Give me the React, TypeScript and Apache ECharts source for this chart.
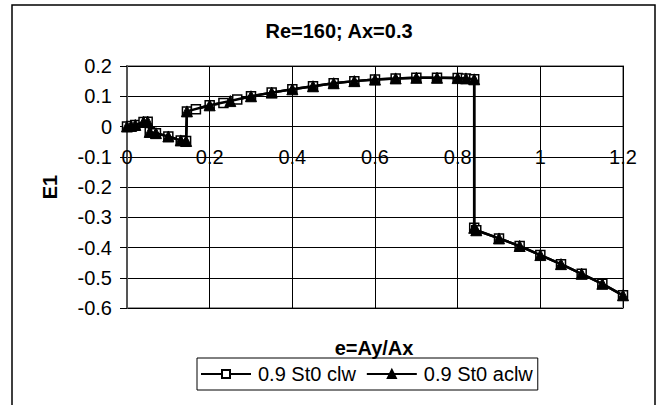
import React, { useEffect, useRef } from "react";
import * as echarts from "echarts";

const titleText = "Re=160; Ax=0.3";
const xAxisTitle = "e=Ay/Ax";
const yAxisTitle = "E1";
const seriesNames = ["0.9 St0 clw", "0.9 St0 aclw"];

const clwX = [0, 0.01, 0.02, 0.04, 0.05, 0.055, 0.07, 0.1, 0.13, 0.143, 0.145, 0.1667, 0.2, 0.2333, 0.2667, 0.3, 0.35, 0.4, 0.45, 0.5, 0.55, 0.6, 0.65, 0.7, 0.75, 0.8, 0.82, 0.84, 0.84, 0.845, 0.9, 0.95, 1.0, 1.05, 1.1, 1.15, 1.2];
const clwY = [0, 0.002, 0.005, 0.015, 0.016, -0.018, -0.022, -0.033, -0.046, -0.048, 0.05, 0.057, 0.07, 0.078, 0.089, 0.1, 0.112, 0.123, 0.133, 0.143, 0.15, 0.155, 0.159, 0.161, 0.161, 0.16, 0.159, 0.156, -0.335, -0.343, -0.37, -0.395, -0.425, -0.455, -0.487, -0.52, -0.558];

const aclwX = [0, 0.01, 0.02, 0.04, 0.05, 0.055, 0.07, 0.1, 0.13, 0.143, 0.145, 0.2, 0.25, 0.3, 0.35, 0.4, 0.45, 0.5, 0.55, 0.6, 0.65, 0.7, 0.75, 0.8, 0.82, 0.84, 0.84, 0.845, 0.9, 0.95, 1.0, 1.05, 1.1, 1.15, 1.2];
const aclwY = [0, 0.002, 0.005, 0.015, 0.016, -0.018, -0.022, -0.033, -0.046, -0.048, 0.05, 0.07, 0.084, 0.1, 0.112, 0.123, 0.133, 0.143, 0.15, 0.155, 0.159, 0.161, 0.161, 0.16, 0.159, 0.156, -0.335, -0.343, -0.37, -0.395, -0.425, -0.455, -0.487, -0.52, -0.558];

const FONT = "Liberation Sans, Arial, sans-serif";

const GRID_TOP = 66;
const GRID_BOTTOM = 97;
const CHART_H = 405;
const Y_MIN = -0.6;
const Y_MAX = 0.2;

export default function App() {
  const ref = useRef<HTMLDivElement>(null);
  useEffect(() => {
    if (!ref.current) return;
    const chart = echarts.init(ref.current, null, { renderer: "svg" });
    const zip = (xs: number[], ys: number[]) => xs.map((x, i) => [x, ys[i]]);
    const fmt = (v: number) => String(parseFloat(v.toFixed(1)));
    const plotH = CHART_H - GRID_TOP - GRID_BOTTOM;
    const zeroFromBottom = ((0 - Y_MIN) / (Y_MAX - Y_MIN)) * plotH;
    chart.setOption({
      animation: false,
      backgroundColor: "#fff",
      textStyle: { fontFamily: FONT },
      grid: {
        left: 127,
        right: 43,
        top: GRID_TOP,
        bottom: GRID_BOTTOM,
        show: true,
        borderColor: "#999",
        borderWidth: 2,
        backgroundColor: "transparent",
      },
      graphic: [
        {
          type: "rect",
          shape: { x: 12, y: 5, width: 643, height: 420 },
          style: { fill: "none", stroke: "#000", lineWidth: 1.5 },
          silent: true,
        },
        {
          type: "text",
          x: 339,
          y: 31,
          style: { text: titleText, font: `bold 20px ${FONT}`, fill: "#000", textAlign: "center", textVerticalAlign: "middle" },
        },
        {
          type: "text",
          x: 374,
          y: 348,
          style: { text: xAxisTitle, font: `bold 20px ${FONT}`, fill: "#000", textAlign: "center", textVerticalAlign: "middle" },
        },
        {
          type: "text",
          x: 50,
          y: 187,
          rotation: Math.PI / 2,
          style: { text: yAxisTitle, font: `bold 20px ${FONT}`, fill: "#000", textAlign: "center", textVerticalAlign: "middle" },
        },
      ],
      legend: {
        left: 197,
        top: 358,
        orient: "horizontal",
        borderColor: "#000",
        borderWidth: 1,
        padding: [6, 5, 6, 3],
        itemGap: 10,
        itemWidth: 50,
        itemHeight: 10,
        data: seriesNames,
        textStyle: { fontSize: 20, color: "#000", fontFamily: FONT, padding: [0, 2, 0, 2] },
      },
      xAxis: {
        type: "value",
        min: 0,
        max: 1.2,
        interval: 0.2,
        position: "bottom",
        offset: -zeroFromBottom,
        axisLine: { onZero: false, lineStyle: { color: "#000", width: 1 } },
        axisTick: { show: true, length: 5, lineStyle: { color: "#000" } },
        axisLabel: {
          color: "#000",
          fontSize: 20,
          fontFamily: FONT,
          margin: 20,
          formatter: fmt,
        },
        splitLine: { show: true, lineStyle: { color: "#000", width: 1 } },
      },
      yAxis: {
        type: "value",
        min: Y_MIN,
        max: Y_MAX,
        interval: 0.1,
        axisLine: { onZero: false, lineStyle: { color: "#555", width: 2 } },
        axisTick: { show: true, length: 7, lineStyle: { color: "#000" } },
        axisLabel: {
          color: "#000",
          fontSize: 20,
          fontFamily: FONT,
          margin: 15,
          formatter: fmt,
        },
        splitLine: { show: true, lineStyle: { color: "#000", width: 1 } },
      },
      series: [
        {
          name: seriesNames[0],
          type: "line",
          data: zip(clwX, clwY),
          symbol: "rect",
          symbolSize: 9,
          lineStyle: { color: "#000", width: 2.5 },
          itemStyle: { color: "#fff", borderColor: "#000", borderWidth: 1.5 },
          z: 3,
        },
        {
          name: seriesNames[1],
          type: "line",
          data: zip(aclwX, aclwY),
          symbol: "triangle",
          symbolSize: 11,
          lineStyle: { color: "#000", width: 2.5 },
          itemStyle: { color: "#000", borderColor: "#000", borderWidth: 1 },
          z: 4,
        },
      ],
    });
    return () => chart.dispose();
  }, []);
  return <div ref={ref} style={{ position: "fixed", left: 0, top: 0, width: 666, height: 405 }} />;
}
